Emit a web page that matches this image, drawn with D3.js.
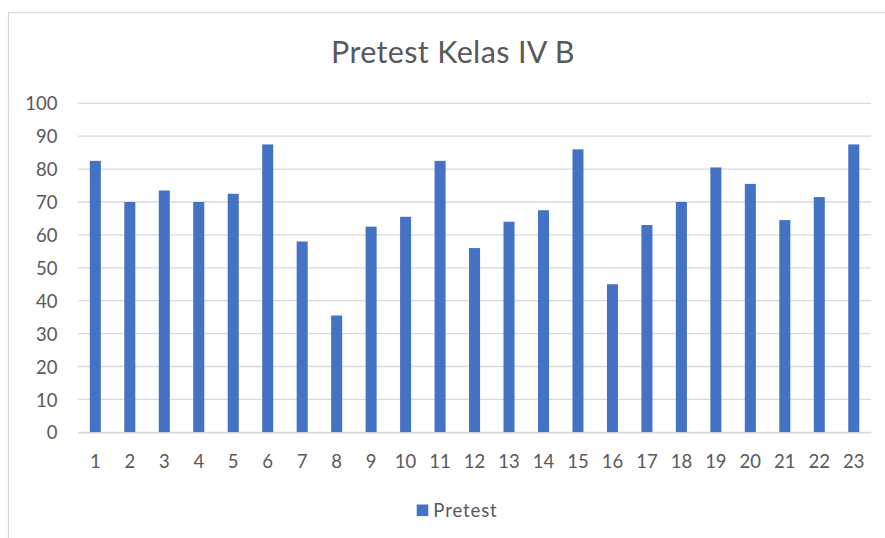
<!DOCTYPE html>
<html><head><meta charset="utf-8">
<script src="https://cdn.jsdelivr.net/npm/d3@7"></script>
<style>html,body{margin:0;padding:0;background:#fff;}svg{display:block;font-family:Lato,"Open Sans",sans-serif;}</style>
</head><body>
<svg id="chart" width="885" height="538"></svg>
<script>
const title = "Pretest Kelas IV B";
const seriesName = "Pretest";
const categories = ["1","2","3","4","5","6","7","8","9","10","11","12","13","14","15","16","17","18","19","20","21","22","23"];
const values = [82.5,70,73.5,70,72.5,87.5,58,35.5,62.5,65.5,82.5,56,64,67.5,86,45,63,70,80.5,75.5,64.5,71.5,87.5];
const yTicks = [0,10,20,30,40,50,60,70,80,90,100];

const svg = d3.select("#chart");
const W = 885, H = 538;
const x0 = 78.1, x1 = 871, yTop = 103.3, yBot = 432.3;
const barColor = "#4472C4", textColor = "#595959", gridColor = "#D9D9D9";

// chart border
svg.append("rect").attr("x",8.5).attr("y",12.5).attr("width",W+20).attr("height",H+20)
  .attr("fill","#fff").attr("stroke",gridColor).attr("stroke-width",1.2);

const x = d3.scaleBand().domain(categories).range([x0,x1]).paddingInner(0.68).paddingOuter(0.34);
const y = d3.scaleLinear().domain([0,100]).range([yBot,yTop]);

// gridlines
svg.append("g").selectAll("line").data(yTicks).join("line")
  .attr("x1",x0).attr("x2",x1).attr("y1",d=>y(d)).attr("y2",d=>y(d))
  .attr("stroke",gridColor).attr("stroke-width",1.3);

// y axis
const yAxis = d3.axisLeft(y).tickValues(yTicks).tickSize(0).tickPadding(0);
const gy = svg.append("g").attr("transform",`translate(57.5,0)`).call(yAxis);
gy.select(".domain").remove();
gy.selectAll("text").attr("fill",textColor).style("font-size","18.5px").attr("dy","0.36em").attr("font-family","Lato");

// bars
svg.append("g").selectAll("rect").data(values).join("rect")
  .attr("x",(d,i)=>x(categories[i])).attr("width",x.bandwidth())
  .attr("y",d=>y(d)).attr("height",d=>yBot-y(d)).attr("fill",barColor);

// x axis
const xAxis = d3.axisBottom(x).tickSize(0).tickPadding(0);
const gx = svg.append("g").attr("transform",`translate(0,${yBot})`).call(xAxis);
gx.select(".domain").attr("stroke",gridColor).attr("stroke-width",1.3);
gx.selectAll("text").attr("fill",textColor).style("font-size","18.5px").attr("y",35.4).attr("dy",null).attr("font-family","Lato");

// title
svg.append("text").attr("x",453).attr("y",63.3).attr("text-anchor","middle")
  .attr("fill",textColor).style("font-size","30.5px").style("letter-spacing","0.35px").attr("font-family","Lato").text(title);

// legend
const lg = svg.append("g");
lg.append("rect").attr("x",416.7).attr("y",504.5).attr("width",11.6).attr("height",11.6).attr("fill",barColor);
lg.append("text").attr("x",433.3).attr("y",516.5).attr("fill",textColor).style("font-size","18.5px").style("letter-spacing","0.9px").attr("font-family","Lato").text(seriesName);
</script>
</body></html>
